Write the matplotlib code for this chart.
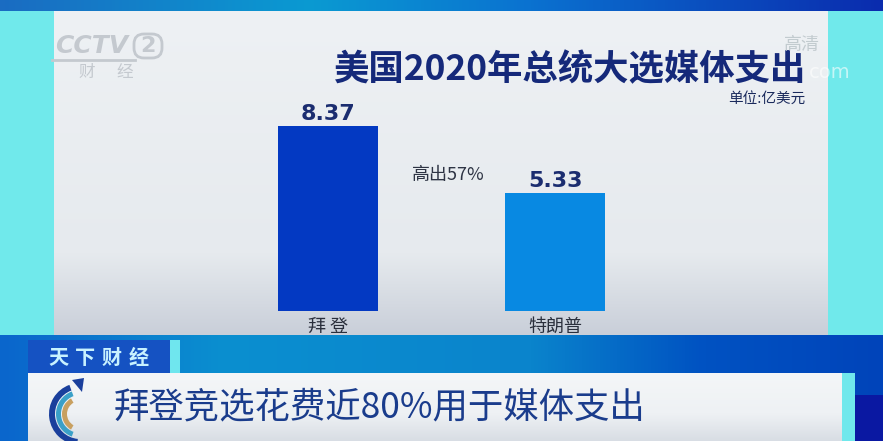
import numpy as np
import matplotlib
matplotlib.use("Agg")
import matplotlib.pyplot as plt
from matplotlib.colors import LinearSegmentedColormap
from matplotlib.patches import Rectangle, Wedge, Polygon, FancyBboxPatch

plt.rcParams['font.family'] = ['Noto Sans CJK SC', 'DejaVu Sans']

# ---------------------------------------------------------------------------
# Data
# ---------------------------------------------------------------------------
candidates = ["拜 登", "特朗普"]
spending = [8.37, 5.33]          # 亿美元
bar_colors = ["#0339c2", "#0889e2"]
title = "美国2020年总统大选媒体支出"
unit = "单位:亿美元"
note = "高出57%"
headline = "拜登竞选花费近80%用于媒体支出"
show_name = "天下财经"

W, H = 883, 441
fig = plt.figure(figsize=(W / 100, H / 100), dpi=100)

# background layer in pixel coordinates
bg = fig.add_axes([0, 0, 1, 1])
bg.set_xlim(0, W)
bg.set_ylim(H, 0)
bg.axis("off")


def gradient(x0, x1, y0, y1, colors, horizontal=True, z=0):
    cmap = LinearSegmentedColormap.from_list("g", colors)
    g = np.linspace(0, 1, 256)
    img = g[None, :] if horizontal else g[:, None]
    bg.imshow(img, cmap=cmap, extent=(x0, x1, y1, y0), aspect="auto",
              zorder=z, interpolation="bicubic")


def rect(x0, x1, y0, y1, color, z=1):
    bg.add_patch(Rectangle((x0, y0), x1 - x0, y1 - y0, color=color,
                           zorder=z, lw=0))


# cyan backdrop
rect(0, W, 0, H, "#70e9eb", z=0)
# top strip
gradient(0, W, 0, 11, [(0, "#1a6cc2"), (0.35, "#0a9ad2"),
                       (0.6, "#0a72d0"), (1, "#0a2cae")], z=1)
# chart panel
gradient(54, 828, 11, 335, [(0, "#eef1f4"), (0.75, "#e6eaee"),
                            (1, "#c9cfd9")], horizontal=False, z=1)
# lower blue band
gradient(0, W, 335, H, [(0, "#0a66cc"), (0.25, "#0a8fd0"), (0.6, "#0a84cc"),
                        (0.8, "#0052c2"), (1, "#0044ba")], z=1)
rect(855, W, 395, H, "#0a18a2", z=2)
# show name box
rect(28, 170, 340, 373, "#1552c2", z=3)
rect(170, 180, 340, 373, "#6fe6ee", z=3)
for i, ch in enumerate(show_name):
    bg.text(58 + i * 27, 357, ch, color="#c8f2ff", fontsize=14.5,
            fontweight="bold", ha="center", va="center", zorder=4)
# headline box
gradient(28, 842, 373, H, [(0, "#f4f6f8"), (0.6, "#eef1f4"), (1, "#d8dde4")],
         horizontal=False, z=3)
rect(842, 855, 373, H, "#70e8ec", z=3)
bg.text(114, 407, headline, color="#1a3c8c", fontsize=25.5, ha="left",
        va="center", zorder=5)

# small swirl logo
for r, wdt, c, t0, t1 in [(31, 6, "#1a3f9c", 95, 250), (24, 5, "#3aa0c8", 110, 250),
                          (18, 5, "#c8a060", 120, 240)]:
    bg.add_patch(Wedge((80, 414), r, t0, t1, width=wdt, color=c, zorder=5, lw=0))
bg.add_patch(Polygon([(72, 380), (84, 378), (82, 392)], closed=True,
                     color="#1a3f9c", zorder=5, lw=0))

# watermarks
bg.text(55, 46, "CCTV", color="#c4c9cf", fontsize=18, fontweight="bold",
        fontstyle="italic", family="DejaVu Sans", ha="left", va="center", zorder=2)
bg.add_patch(FancyBboxPatch((136, 36), 24, 20, boxstyle="round,pad=2,rounding_size=10",
                            fc="none", ec="#c4c9cf", lw=2, zorder=2))
bg.text(148, 46, "2", color="#c4c9cf", fontsize=16, fontweight="bold",
        family="DejaVu Sans", ha="center", va="center", zorder=2)
bg.plot([52, 135], [60, 60], color="#c4c9cf", lw=2, zorder=2)
bg.text(87, 72, "财", color="#c4c9cf", fontsize=12, ha="center",
        va="center", zorder=2)
bg.text(125, 72, "经", color="#c4c9cf", fontsize=12, ha="center",
        va="center", zorder=2)
bg.text(802, 45, "高清", color="#b8c2c6", fontsize=13, ha="center",
        va="center", zorder=6, alpha=0.8)
bg.text(830, 73, "com", color="#ffffff", fontsize=14, ha="center",
        va="center", zorder=6, alpha=0.6, family="DejaVu Sans")

# titles
bg.text(806, 70, title, color="#15297a", fontsize=25.5, fontweight="bold",
        ha="right", va="center", zorder=5)
bg.text(805, 99, unit, color="#1a2a5c", fontsize=10.5, ha="right",
        va="center", zorder=5)

# ---------------------------------------------------------------------------
# Bar chart
# ---------------------------------------------------------------------------
ax = fig.add_axes([214.5 / W, (H - 311) / H, 454 / W, 221 / H])
ax.set_xlim(-0.5, 1.5)
ax.set_ylim(0, 10)
ax.patch.set_alpha(0)
ax.axis("off")

x = np.arange(len(candidates))
ax.bar(x, spending, width=0.44, color=bar_colors, zorder=3)
for xi, v in zip(x, spending):
    ax.text(xi, v + 0.1, f"{v:.2f}", color="#1b2d70", fontsize=16,
            fontweight="bold", ha="center", va="bottom", family="DejaVu Sans")
for xi, name in zip(x, candidates):
    ax.text(xi, -0.7, name, color="#2a2f3c", fontsize=13, ha="center",
            va="center", clip_on=False)
ax.text(0.53, 6.15, note, color="#2e3444", fontsize=13, ha="center",
        va="center")

fig.savefig("out.png", dpi=100)
